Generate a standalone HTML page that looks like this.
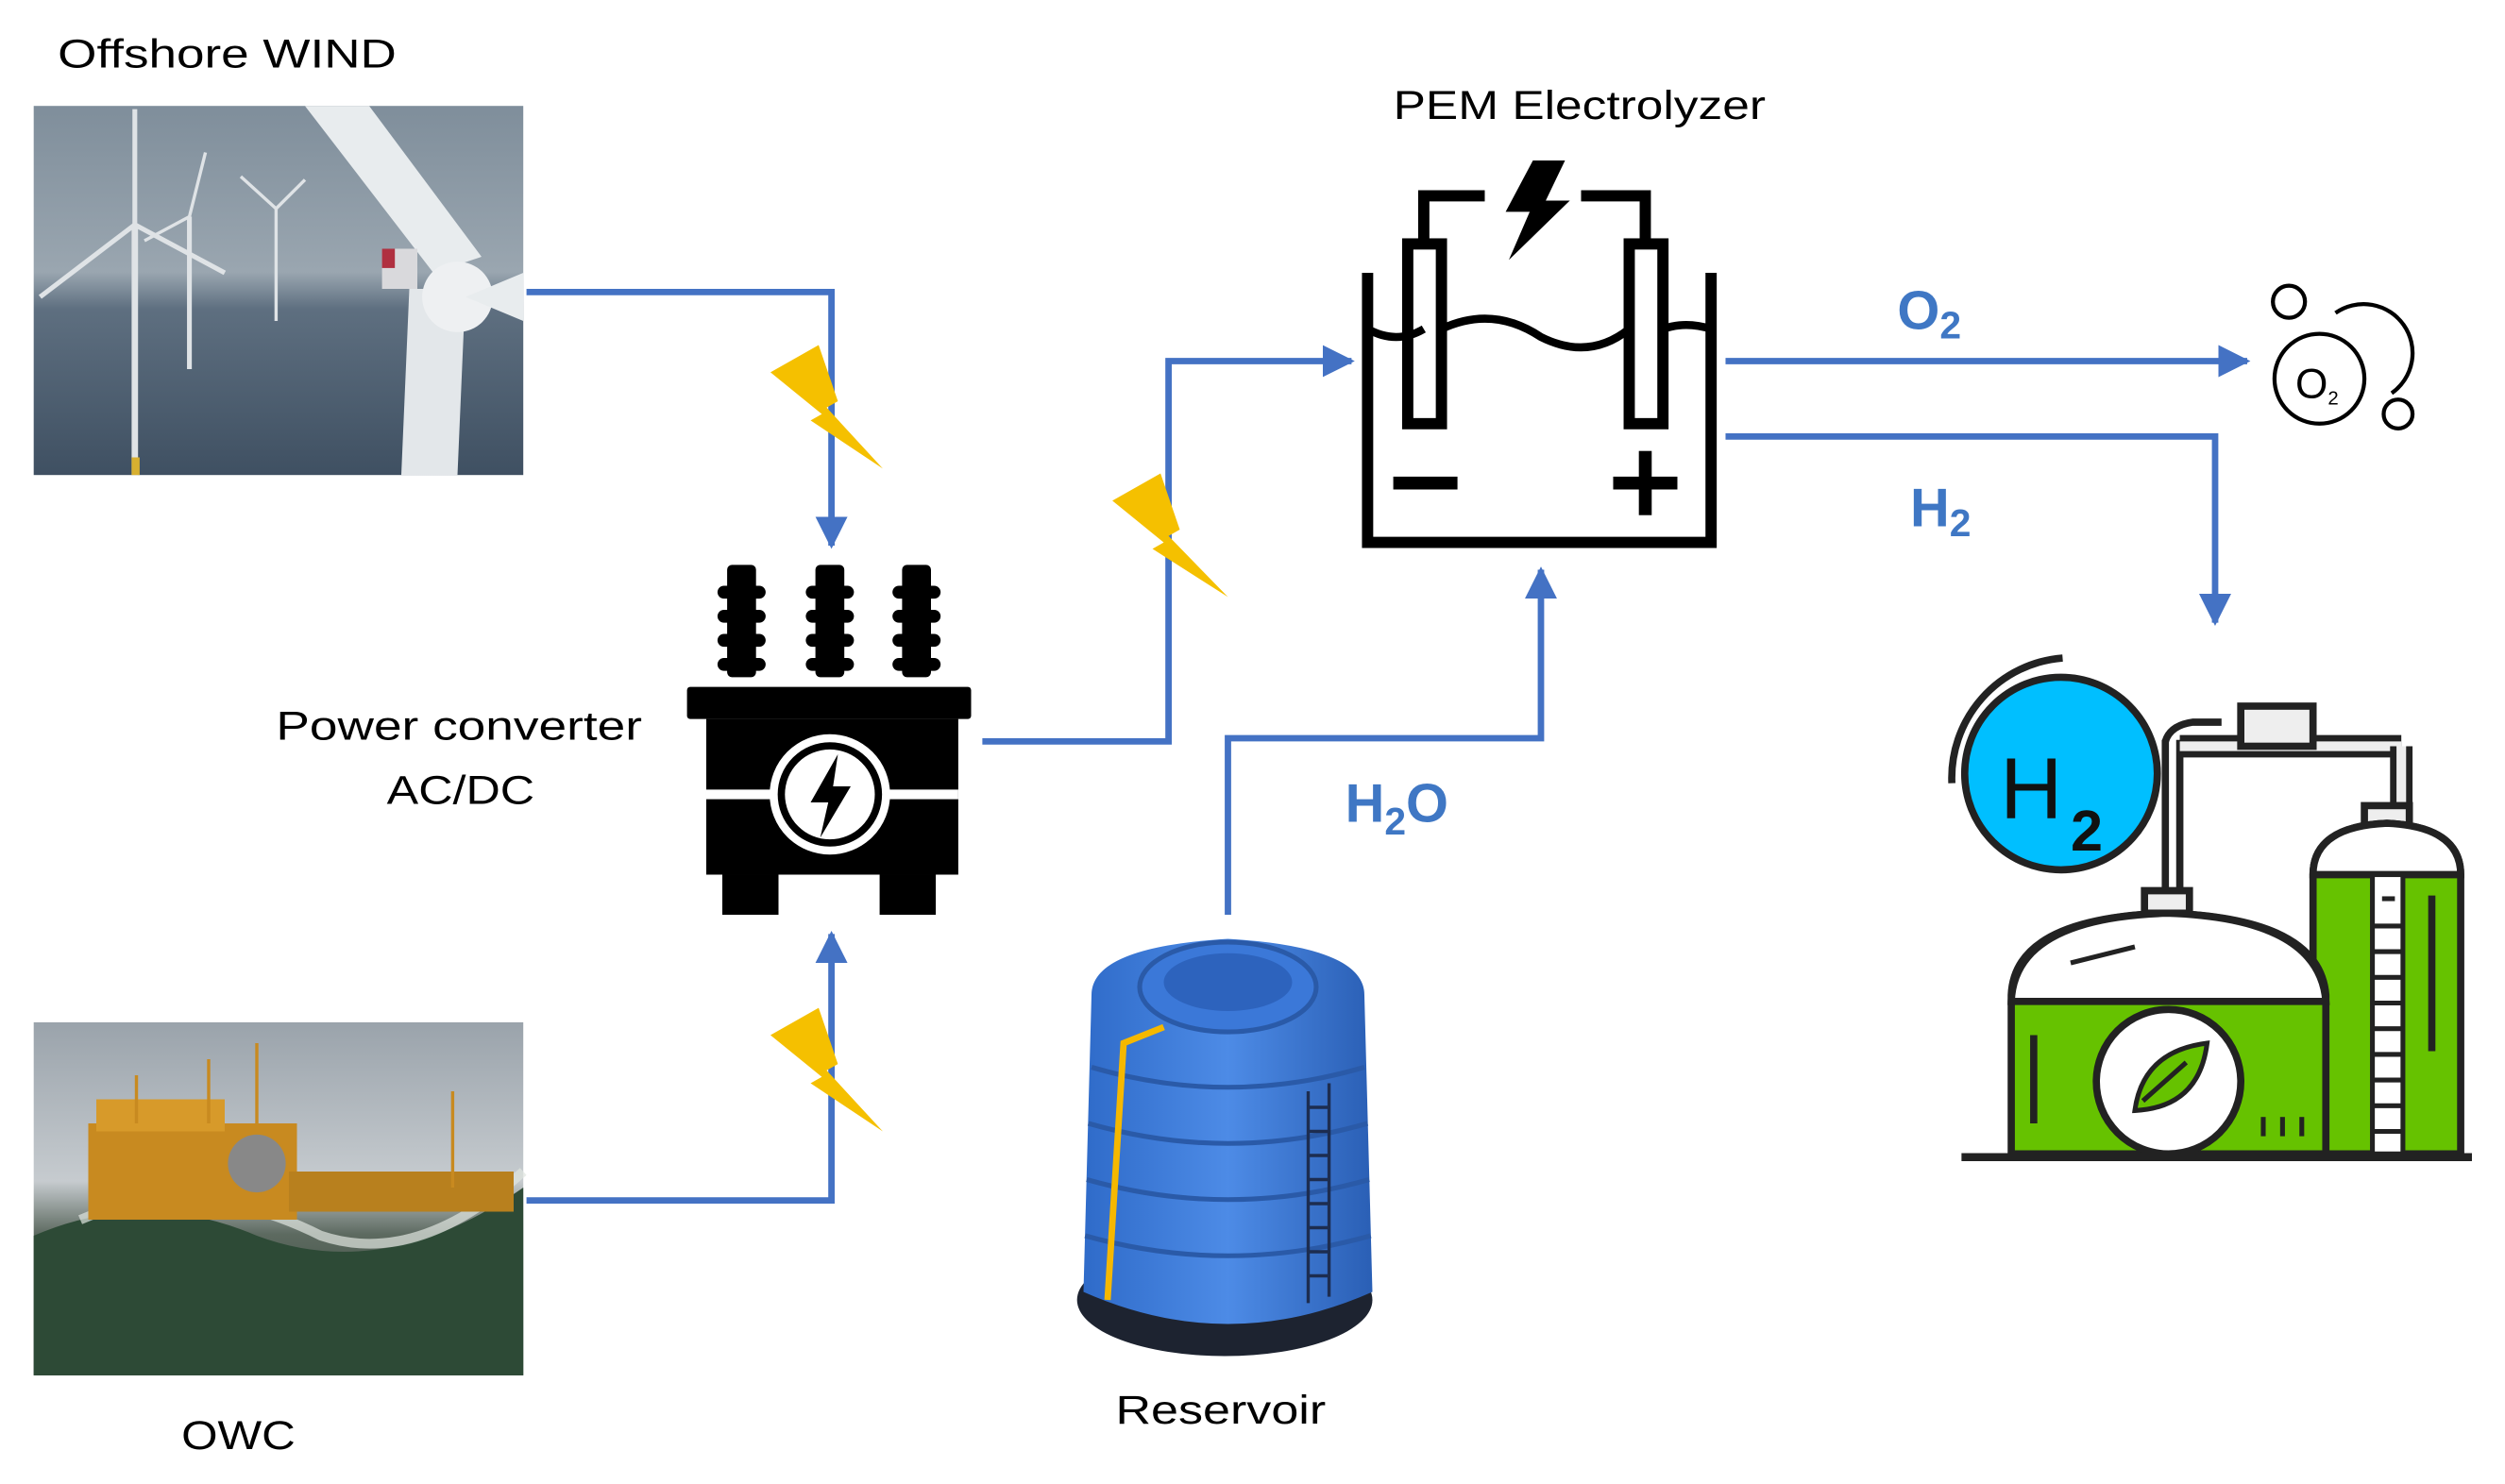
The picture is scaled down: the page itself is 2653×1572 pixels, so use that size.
<!DOCTYPE html>
<html><head><meta charset="utf-8"><style>
html,body{margin:0;padding:0;background:#fff;}
svg{display:block;}
text{font-family:"Liberation Sans",sans-serif;}
</style></head><body>
<svg width="2653" height="1572" viewBox="0 0 1560.6 924.7" preserveAspectRatio="none" xmlns="http://www.w3.org/2000/svg">
<defs>
<linearGradient id="wsky" x1="0" y1="0" x2="0" y2="1">
<stop offset="0" stop-color="#7f8e9b"/><stop offset="0.45" stop-color="#9aa6b0"/><stop offset="0.55" stop-color="#5e6f80"/><stop offset="1" stop-color="#3f5062"/></linearGradient>
<linearGradient id="osky" x1="0" y1="0" x2="0" y2="1">
<stop offset="0" stop-color="#9aa3ab"/><stop offset="0.45" stop-color="#c6cbcf"/><stop offset="0.6" stop-color="#5d6a60"/><stop offset="1" stop-color="#1f3326"/></linearGradient>
<linearGradient id="tank" x1="0" y1="0" x2="1" y2="0">
<stop offset="0" stop-color="#2f6bc9"/><stop offset="0.5" stop-color="#4d8be6"/><stop offset="1" stop-color="#2a5fb5"/></linearGradient>
<marker id="ar" viewBox="0 0 10 10" refX="9" refY="5" markerWidth="5" markerHeight="5" orient="auto"><path d="M0,0 L10,5 L0,10 z" fill="#4472C4"/></marker>
</defs>

<!-- labels -->
<text x="36" y="42" font-size="25" textLength="211" lengthAdjust="spacingAndGlyphs">Offshore WIND</text>
<text x="868" y="74" font-size="25" textLength="232" lengthAdjust="spacingAndGlyphs">PEM Electrolyzer</text>
<text x="172" y="461" font-size="25" textLength="228" lengthAdjust="spacingAndGlyphs">Power converter</text>
<text x="241" y="501" font-size="25" textLength="92" lengthAdjust="spacingAndGlyphs">AC/DC</text>
<text x="113" y="903" font-size="25" textLength="71" lengthAdjust="spacingAndGlyphs">OWC</text>
<text x="695" y="887" font-size="25" textLength="131" lengthAdjust="spacingAndGlyphs">Reservoir</text>
<text x="1182" y="205" font-size="34" font-weight="bold" fill="#3f77c4">O<tspan font-size="24" dy="6">2</tspan></text>
<text x="1190" y="328" font-size="34" font-weight="bold" fill="#3f77c4">H<tspan font-size="24" dy="6">2</tspan></text>
<text x="838" y="512" font-size="34" font-weight="bold" fill="#3f77c4">H<tspan font-size="24" dy="8">2</tspan><tspan dy="-8">O</tspan></text>

<!-- wind photo -->
<rect x="21" y="66" width="305" height="230" fill="url(#wsky)"/>
<g stroke="#dfe3e6" fill="none">
<line x1="84" y1="140" x2="84" y2="296" stroke-width="4"/>
<line x1="84" y1="140" x2="84" y2="68" stroke-width="3"/>
<line x1="84" y1="140" x2="25" y2="185" stroke-width="3"/>
<line x1="84" y1="140" x2="140" y2="170" stroke-width="3"/>
<line x1="118" y1="135" x2="118" y2="230" stroke-width="3"/>
<line x1="118" y1="135" x2="128" y2="95" stroke-width="2"/>
<line x1="118" y1="135" x2="90" y2="150" stroke-width="2"/>
<line x1="172" y1="130" x2="172" y2="200" stroke-width="2"/>
<line x1="172" y1="130" x2="150" y2="110" stroke-width="2"/>
<line x1="172" y1="130" x2="190" y2="112" stroke-width="2"/>
<path d="M190,66 L270,170 L300,160 L230,66 z" fill="#e8ecee" stroke="none"/>
<path d="M255,180 L250,296 L285,296 L290,180 z" fill="#e3e7ea" stroke="none"/>
<circle cx="285" cy="185" r="22" fill="#eef0f2" stroke="none"/>
<path d="M290,185 L326,170 L326,200 z" fill="#e8ecee" stroke="none"/>
<rect x="238" y="155" width="22" height="25" fill="#d9d9dc" stroke="none"/>
<rect x="238" y="155" width="8" height="12" fill="#b03040" stroke="none"/>
</g>
<rect x="82" y="285" width="5" height="11" fill="#d8b030"/>

<!-- OWC photo -->
<rect x="21" y="637" width="305" height="220" fill="url(#osky)"/>
<path d="M21,770 Q90,740 160,770 Q240,800 326,740 L326,857 L21,857 z" fill="#2d4a36"/>
<path d="M50,760 Q120,730 200,770 Q260,790 326,730" stroke="#e0e6e0" stroke-width="6" fill="none" opacity="0.7"/>
<rect x="55" y="700" width="130" height="60" fill="#c88a20"/>
<rect x="60" y="685" width="80" height="20" fill="#d79a2a"/>
<rect x="180" y="730" width="140" height="25" fill="#b8801e"/>
<circle cx="160" cy="725" r="18" fill="#888"/>
<g stroke="#c88a20" stroke-width="2"><line x1="130" y1="660" x2="130" y2="700"/><line x1="160" y1="650" x2="160" y2="700"/><line x1="282" y1="680" x2="282" y2="740"/><line x1="85" y1="670" x2="85" y2="700"/></g>

<!-- connectors -->
<g stroke="#4472C4" stroke-width="4" fill="none">
<polyline points="328,182 518,182 518,340" marker-end="url(#ar)"/>
<polyline points="328,748 518,748 518,582" marker-end="url(#ar)"/>
<polyline points="612,462 728,462 728,225 842,225" marker-end="url(#ar)"/>
<polyline points="1075,225 1400,225" marker-end="url(#ar)"/>
<polyline points="1075,272 1380,272 1380,388" marker-end="url(#ar)"/>
<polyline points="765,570 765,460 960,460 960,355" marker-end="url(#ar)"/>
</g>

<!-- lightning bolts -->
<g fill="#f5c000">
<path d="M480,232 L510,215 L522,250 L515,254 L550,292 L505,262 L512,258 z"/>
<path d="M480,645 L510,628 L522,663 L515,667 L550,705 L505,675 L512,671 z"/>
<path d="M693,312 L723,295 L735,330 L728,334 L765,372 L718,342 L725,338 z"/>
</g>

<!-- transformer -->
<g fill="#000">
<g id="bush"><rect x="453" y="352" width="18" height="70" rx="3"/>
<rect x="447" y="365" width="30" height="8" rx="4"/><rect x="447" y="380" width="30" height="8" rx="4"/><rect x="447" y="395" width="30" height="8" rx="4"/><rect x="447" y="410" width="30" height="8" rx="4"/></g>
<use href="#bush" x="55"/><use href="#bush" x="109"/>
<rect x="428" y="428" width="177" height="20" rx="2"/>
<rect x="440" y="448" width="157" height="97"/>
<rect x="450" y="545" width="35" height="25"/>
<rect x="548" y="545" width="35" height="25"/>
</g>
<rect x="440" y="492" width="157" height="6" fill="#fff"/>
<circle cx="517" cy="495" r="35" fill="#000" stroke="#fff" stroke-width="5"/>
<circle cx="517" cy="495" r="28" fill="#fff"/>
<path d="M522,470 L505,500 L516,500 L511,522 L530,490 L519,490 z" fill="#000"/>

<!-- electrolyzer -->
<g fill="none" stroke="#000" stroke-width="7">
<polyline points="852,170 852,338 1066,338 1066,170"/>
<rect x="877" y="152" width="21" height="112"/>
<rect x="1015" y="152" width="21" height="112"/>
<polyline points="887,150 887,122 925,122"/>
<polyline points="985,122 1025,122 1025,150"/>
<path d="M852,205 Q870,215 887,205 M898,205 Q930,190 960,210 Q990,225 1015,205 M1036,205 Q1050,200 1066,205" stroke-width="5"/>
</g>
<path d="M955,100 L975,100 L963,125 L978,125 L940,162 L953,132 L938,132 z" fill="#000"/>
<rect x="868" y="297" width="40" height="8" fill="#000"/>
<rect x="1005" y="297" width="40" height="8" fill="#000"/>
<rect x="1021" y="281" width="8" height="40" fill="#000"/>

<!-- O2 bubbles -->
<g fill="none" stroke="#000" stroke-width="2.5">
<circle cx="1445" cy="236" r="28"/>
<path d="M1455,195 A28,28 0 1 1 1490,245"/>
<circle cx="1426" cy="188" r="10"/>
<circle cx="1494" cy="258" r="9"/>
</g>
<text x="1430" y="248" font-size="26">O<tspan font-size="12" dy="4">2</tspan></text>

<!-- reservoir -->
<ellipse cx="763" cy="810" rx="92" ry="35" fill="#1d2330"/>
<path d="M680,620 Q680,590 765,585 Q850,590 850,620 L855,805 Q765,845 675,805 z" fill="url(#tank)"/>
<g stroke="#2a5aa8" stroke-width="3" fill="none">
<path d="M680,665 Q765,690 850,665"/><path d="M678,700 Q765,725 852,700"/><path d="M677,735 Q765,760 853,735"/><path d="M676,770 Q765,795 854,770"/>
</g>
<ellipse cx="765" cy="615" rx="55" ry="28" fill="#3b78d8" stroke="#2a5aa8" stroke-width="3"/>
<ellipse cx="765" cy="612" rx="40" ry="18" fill="#2d63bd"/>
<path d="M725,640 L700,650 L690,810" stroke="#f5b800" stroke-width="4" fill="none"/>
<g stroke="#1d2d50" stroke-width="2"><line x1="815" y1="680" x2="815" y2="812"/><line x1="828" y1="675" x2="828" y2="808"/>
<line x1="815" y1="690" x2="828" y2="690"/><line x1="815" y1="705" x2="828" y2="705"/><line x1="815" y1="720" x2="828" y2="720"/><line x1="815" y1="735" x2="828" y2="735"/><line x1="815" y1="750" x2="828" y2="750"/><line x1="815" y1="765" x2="828" y2="765"/><line x1="815" y1="780" x2="828" y2="780"/><line x1="815" y1="795" x2="828" y2="795"/></g>

<!-- hydrogen plant -->
<g stroke="#222" stroke-width="4.5" fill="none">
<path d="M1216,488 A75,75 0 0 1 1285,410"/>
<path d="M1226,480 A62,62 0 0 1 1275,423" stroke-width="3"/>
<circle cx="1284" cy="482" r="60" fill="#00bfff"/>
<path d="M1349,461 L1349,553 M1358,461 L1358,553" />
<path d="M1358,465 L1496,465" stroke-width="14" stroke="#222"/>
<path d="M1358,465 L1496,465" stroke-width="6" stroke="#eee"/>
<path d="M1349,462 Q1352,452 1366,450 L1384,450"/>
<path d="M1496,465 L1496,503" stroke-width="14" stroke="#222"/>
<path d="M1496,465 L1496,503" stroke-width="6" stroke="#eee"/>
<rect x="1396" y="440" width="45" height="25" fill="#eee"/>
<rect x="1473" y="502" width="28" height="13" fill="#eee"/>
<path d="M1441,545 Q1441,515 1487,513 Q1533,515 1533,545 L1533,719 L1441,719 z" fill="#66c200"/>
<path d="M1441,545 Q1441,515 1487,513 Q1533,515 1533,545 z" fill="#fff"/>
<rect x="1478" y="545" width="19" height="174" fill="#fff" stroke-width="3"/>
<path d="M1336,555 L1336,569 L1364,569 L1364,555 z" fill="#eee"/>
<path d="M1253,620 Q1255,572 1350,569 Q1445,572 1449,620 L1449,719 L1253,719 z" fill="#66c200"/>
<path d="M1253,624 Q1255,572 1350,569 Q1445,572 1449,624 z" fill="#fff"/>
<circle cx="1351" cy="674" r="45" fill="#fff"/>
<path d="M1330,692 Q1335,655 1375,650 Q1370,690 1330,692 z M1335,686 L1362,662" fill="#66c200" stroke-width="3"/>
<line x1="1222" y1="721" x2="1540" y2="721" stroke-width="5"/>
<line x1="1267" y1="645" x2="1267" y2="700"/>
<line x1="1515" y1="558" x2="1515" y2="655"/>
<path d="M1255,495 Q1300,478 1300,478" stroke="none"/>
</g>
<text x="1246" y="510" font-size="54" fill="#111">H</text>
<text x="1290" y="530" font-size="36" font-weight="bold" fill="#111">2</text>
<g stroke="#222" stroke-width="3"><line x1="1484" y1="560" x2="1492" y2="560"/><line x1="1478" y1="577" x2="1497" y2="577"/><line x1="1478" y1="593" x2="1497" y2="593"/><line x1="1478" y1="609" x2="1497" y2="609"/><line x1="1478" y1="625" x2="1497" y2="625"/><line x1="1478" y1="641" x2="1497" y2="641"/><line x1="1478" y1="657" x2="1497" y2="657"/><line x1="1478" y1="673" x2="1497" y2="673"/><line x1="1478" y1="689" x2="1497" y2="689"/><line x1="1478" y1="705" x2="1497" y2="705"/>
<line x1="1410" y1="696" x2="1410" y2="708"/><line x1="1422" y1="696" x2="1422" y2="708"/><line x1="1434" y1="696" x2="1434" y2="708"/>
<path d="M1290,600 L1330,590" /></g>
</svg>
</body></html>
